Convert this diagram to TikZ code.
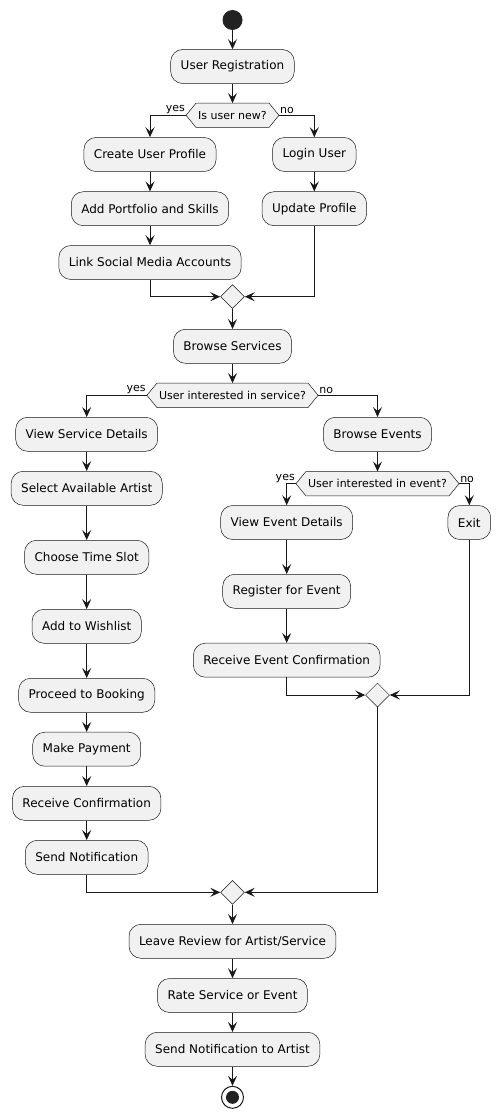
\documentclass[tikz,border=0pt]{standalone}
\usepackage{fontspec}
\setmainfont{DejaVu Sans}
\usetikzlibrary{shapes.geometric,arrows.meta,calc,backgrounds}
\definecolor{boxfill}{HTML}{F1F1F1}
\definecolor{lncol}{HTML}{181818}
\definecolor{dot}{HTML}{222222}
\newcommand\hexshape[1]{%
  \begin{scope}[on background layer]
    \path[hexbg] (#1.west) -- ($(#1.north west)+(10,0)$) -- ($(#1.north east)+(-10,0)$) -- (#1.east)
      -- ($(#1.south east)+(-10,0)$) -- ($(#1.south west)+(10,0)$) -- cycle;
  \end{scope}}
\begin{document}
\begin{tikzpicture}[x=1pt,y=-1pt,
  act/.style={rectangle, rounded corners=12pt, draw=lncol, line width=0.5pt, fill=boxfill,
    minimum height=34pt, inner xsep=10pt, inner ysep=0pt, font=\fontsize{12}{14}\selectfont},
  dec/.style={rectangle, minimum height=24pt, inner xsep=12pt, inner ysep=0pt,
    font=\fontsize{11}{13}\selectfont},
  hexbg/.style={fill=boxfill, draw=lncol, line width=0.5pt},
  merge/.style={diamond, draw=lncol, line width=0.5pt, fill=boxfill,
    minimum width=24pt, minimum height=24pt, inner sep=0pt},
  lab/.style={font=\fontsize{11}{13}\selectfont, inner sep=1pt},
  arr/.style={draw=lncol, line width=1pt, -{Stealth[length=10pt,width=9pt,inset=4pt]}}]
\useasboundingbox (0,0) rectangle (500,1118);
% start
\node[circle, fill=dot, minimum size=20pt, inner sep=0pt] (start) at (232.5,20) {};
\node[act] (reg) at (232.5,66.5) {User Registration};
\node[dec] (d1) at (232.5,115.3) {Is user new?};
\hexshape{d1}
\node[lab, anchor=south east] (y1) at (d1.west) {yes};
\node[lab, anchor=south west] (n1) at (d1.east) {no};
\node[act] (cup) at (150,154.5) {Create User Profile};
\node[act] (aps) at (150,208.7) {Add Portfolio and Skills};
\node[act] (lsm) at (150,262.5) {Link Social Media Accounts};
\node[act] (login) at (314.3,154.5) {Login User};
\node[act] (upd) at (314.3,208.7) {Update Profile};
\node[merge] (m1) at (232.5,296.7) {};
\node[act] (bs) at (232.5,346.3) {Browse Services};
\node[dec] (d2) at (232.5,395.3) {User interested in service?};
\hexshape{d2}
\node[lab, anchor=south east] (y2) at (d2.west) {yes};
\node[lab, anchor=south west] (n2) at (d2.east) {no};
% left service column
\node[act] (vsd) at (86.7,434.3) {View Service Details};
\node[act] (saa) at (86.7,488.3) {Select Available Artist};
\node[act] (cts) at (86.7,557.3) {Choose Time Slot};
\node[act] (atw) at (86.7,626.3) {Add to Wishlist};
\node[act] (ptb) at (86.7,695.3) {Proceed to Booking};
\node[act] (mp) at (86.7,749.2) {Make Payment};
\node[act] (rc) at (86.7,803.3) {Receive Confirmation};
\node[act] (sn) at (86.7,857.3) {Send Notification};
% right events column
\node[act] (be) at (377.5,434.3) {Browse Events};
\node[dec] (d3) at (377.5,483.7) {User interested in event?};
\hexshape{d3}
\node[lab, anchor=south east] (y3) at (d3.west) {yes};
\node[lab, anchor=south west] (n3) at (d3.east) {no};
\node[act] (ved) at (286.7,522.5) {View Event Details};
\node[act] (rfe) at (286.7,591.3) {Register for Event};
\node[act] (rec) at (286.7,660.2) {Receive Event Confirmation};
\node[act] (exit) at (469.3,522.5) {Exit};
\node[merge] (m2) at (377.5,695) {};
% bottom
\node[merge] (m3) at (232.5,892.3) {};
\node[act] (lr) at (232.5,941.3) {Leave Review for Artist/Service};
\node[act] (rse) at (232.5,995.5) {Rate Service or Event};
\node[act] (sna) at (232.5,1049.3) {Send Notification to Artist};
\node[circle, draw=lncol, line width=1pt, fill=white, minimum size=22pt, inner sep=0pt] (end) at (232.5,1097.3) {};
\node[circle, fill=dot, minimum size=13pt, inner sep=0pt] (endin) at (end) {};
% connectors
\draw[arr] (start) -- (reg);
\draw[arr] (reg) -- (d1);
\draw[arr] (d1.west) -| (cup.north);
\draw[arr] (d1.east) -| (login.north);
\draw[arr] (cup) -- (aps);
\draw[arr] (aps) -- (lsm);
\draw[arr] (lsm.south) |- (m1.west);
\draw[arr] (login) -- (upd);
\draw[arr] (upd.south) |- (m1.east);
\draw[arr] (m1) -- (bs);
\draw[arr] (bs) -- (d2);
\draw[arr] (d2.west) -| (vsd.north);
\draw[arr] (d2.east) -| (be.north);
\draw[arr] (vsd) -- (saa);
\draw[arr] (saa) -- (cts);
\draw[arr] (cts) -- (atw);
\draw[arr] (atw) -- (ptb);
\draw[arr] (ptb) -- (mp);
\draw[arr] (mp) -- (rc);
\draw[arr] (rc) -- (sn);
\draw[arr] (sn.south) |- (m3.west);
\draw[arr] (be) -- (d3);
\draw[arr] (d3.west) -| (ved.north);
\draw[arr] (d3.east) -| (exit.north);
\draw[arr] (ved) -- (rfe);
\draw[arr] (rfe) -- (rec);
\draw[arr] (rec.south) |- (m2.west);
\draw[arr] (exit.south) |- (m2.east);
\draw[arr] (m2.south) |- (m3.east);
\draw[arr] (m3) -- (lr);
\draw[arr] (lr) -- (rse);
\draw[arr] (rse) -- (sna);
\draw[arr] (sna) -- (end);
\end{tikzpicture}
\end{document}
